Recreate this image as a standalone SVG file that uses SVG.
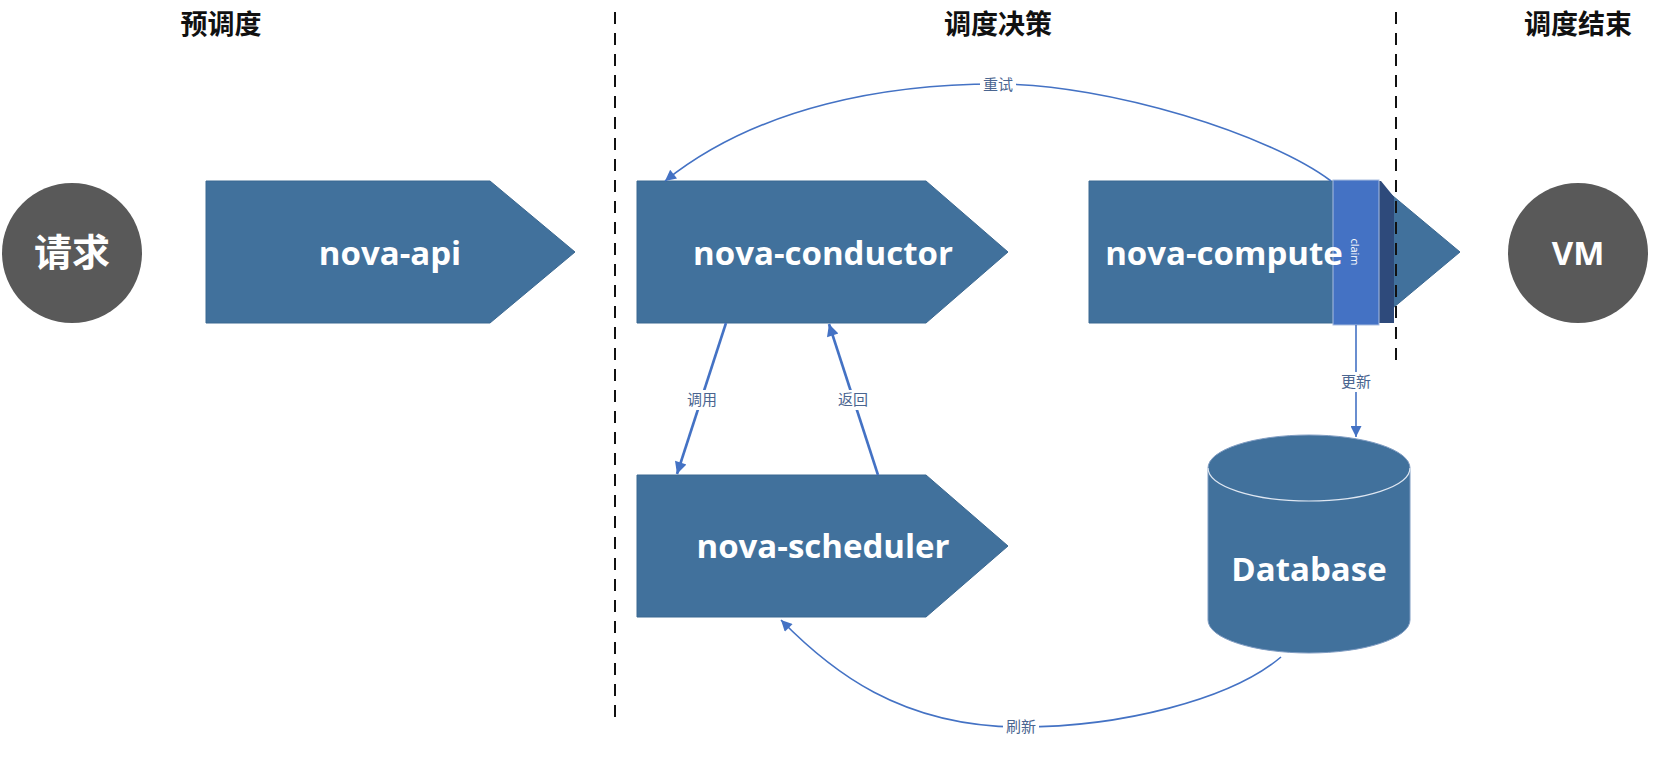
<svg xmlns="http://www.w3.org/2000/svg" width="1654" height="761" viewBox="0 0 1654 761">
<defs>
<style>
.hdr{font-family:"Noto Sans CJK SC","Noto Sans",sans-serif;font-size:27px;font-weight:700;fill:#111;text-anchor:middle}
.node{fill:#41719C;stroke:#3b6891;stroke-width:1}
.circ{fill:#595959}
.nt{font-family:"Open Sans","Noto Sans",sans-serif;font-weight:700;font-size:33px;fill:#fff;text-anchor:middle}
.cjk{font-family:"Noto Sans CJK SC",sans-serif;font-weight:700;font-size:38px;fill:#fff;text-anchor:middle}
.con{fill:none;stroke:#4472C4;stroke-width:1.6}
.thick{stroke-width:2.6}
.lbl{font-family:"Noto Sans CJK SC","Noto Sans",sans-serif;font-size:15px;fill:#4a6590;text-anchor:middle}
.lblbg{fill:#fff}
.dash{stroke:#111;stroke-width:2;stroke-dasharray:12 9;fill:none}
</style>
<marker id="ah" viewBox="0 0 10 10" refX="10" refY="5" markerUnits="userSpaceOnUse" markerWidth="14" markerHeight="11" orient="auto">
<path d="M0,0 L10,5 L0,10 Z" fill="#4472C4"/>
</marker>
<marker id="ahb" viewBox="0 0 10 10" refX="10" refY="5" markerUnits="userSpaceOnUse" markerWidth="17" markerHeight="12" orient="auto">
<path d="M0,0 L10,5 L0,10 Z" fill="#4472C4"/>
</marker>
</defs>
<rect width="1654" height="761" fill="#fff"/>

<g id="headers">
<text class="hdr" x="221" y="34">预调度</text>
<text class="hdr" x="998" y="34">调度决策</text>
<text class="hdr" x="1578" y="34">调度结束</text>
</g>

<g id="req">
<circle class="circ" cx="72" cy="253" r="70"/>
<text class="cjk" x="72" y="266">请求</text>
</g>

<g id="nova-api">
<path class="node" d="M206,181 H490 L575,252 L490,323 H206 Z"/>
<text class="nt" x="390" y="265">nova-api</text>
</g>

<g id="nova-conductor">
<path class="node" d="M637,181 H926 L1008,252 L926,323 H637 Z"/>
<text class="nt" x="823" y="265">nova-conductor</text>
</g>

<g id="nova-scheduler">
<path class="node" d="M637,475 H926 L1008,546 L926,617 H637 Z"/>
<text class="nt" x="823" y="558">nova-scheduler</text>
</g>

<g id="nova-compute">
<path class="node" d="M1089,181 H1375 L1460,252 L1375,323 H1089 Z"/>
<polygon points="1379,181 1381,181 1394,197 1394,323 1379,323" fill="#2E4A7B"/>
<rect x="1333" y="180" width="46" height="145" fill="#4472C4" stroke="#a9bde0" stroke-width="1"/>
<text x="0" y="0" transform="translate(1355,252) rotate(90)" font-family="Open Sans, sans-serif" font-size="11" fill="#fff" text-anchor="middle" dy="0.35em">claim</text>
<text class="nt" x="1224" y="265">nova-compute</text>
</g>

<g id="vm">
<circle class="circ" cx="1578" cy="253" r="70"/>
<text class="nt" x="1578" y="265" font-size="35">VM</text>
</g>

<g id="database">
<path d="M1208,468 V620 A101,33 0 0 0 1410,620 V468 A101,33 0 0 0 1208,468 Z" fill="#41719C" stroke="#7f9cc2" stroke-width="1"/>
<path d="M1208,468 A101,33 0 0 0 1410,468" fill="none" stroke="#dfe7f2" stroke-width="1.2"/>
<text class="nt" x="1309" y="581">Database</text>
</g>

<g id="connectors">
<path class="con" d="M1331,181 C1270,135 1110,84 997,84 C890,84 760,105 665,181" marker-end="url(#ah)"/>
<line class="con thick" x1="726" y1="323" x2="677" y2="474" marker-end="url(#ahb)"/>
<line class="con thick" x1="878" y1="475" x2="829" y2="324" marker-end="url(#ahb)"/>
<line class="con" x1="1356" y1="325" x2="1356" y2="437" marker-end="url(#ah)"/>
<path class="con" d="M1281,657 C1230,700 1120,727 1021,727 C900,727 830,670 781,620" marker-end="url(#ah)"/>

<rect class="lblbg" x="980" y="75" width="36" height="19"/>
<text class="lbl" x="998" y="90">重试</text>
<rect class="lblbg" x="685" y="390" width="34" height="20"/>
<text class="lbl" x="702" y="405">调用</text>
<rect class="lblbg" x="836" y="390" width="34" height="20"/>
<text class="lbl" x="853" y="405">返回</text>
<rect class="lblbg" x="1339" y="372" width="34" height="20"/>
<text class="lbl" x="1356" y="387">更新</text>
<rect class="lblbg" x="1003" y="717" width="36" height="20"/>
<text class="lbl" x="1021" y="732">刷新</text>
</g>

<g id="dividers">
<line class="dash" x1="615" y1="12" x2="615" y2="722"/>
<line class="dash" x1="1396" y1="12" x2="1396" y2="362"/>
</g>
</svg>
